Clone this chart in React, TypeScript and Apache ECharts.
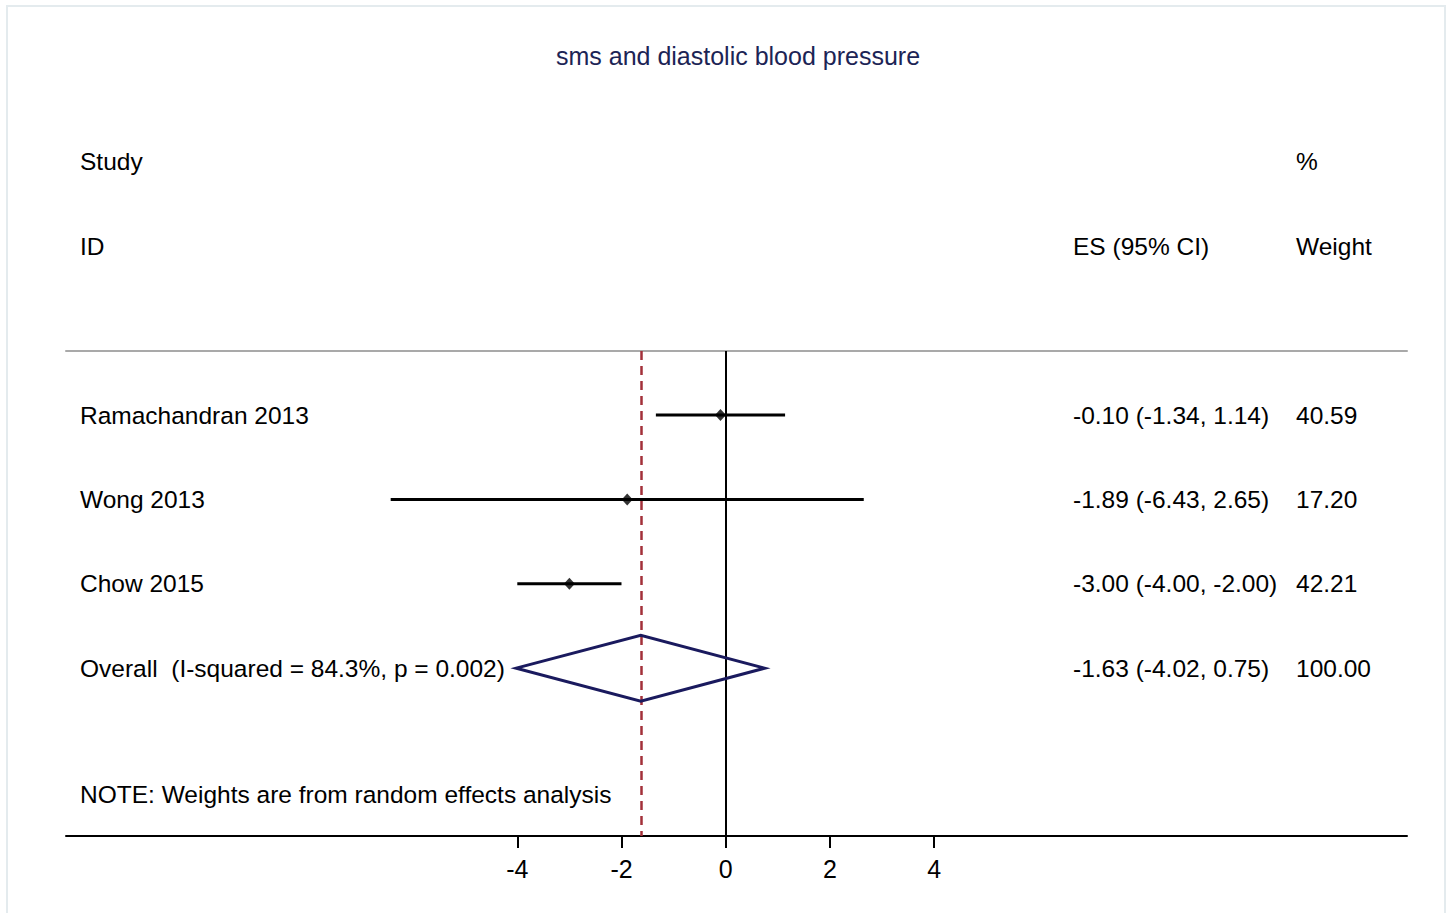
import React, { useEffect, useRef } from "react";
import * as echarts from "echarts";

const chartTitle = "sms and diastolic blood pressure";
const studies = ["Ramachandran 2013", "Wong 2013", "Chow 2015"];
const es = [-0.1, -1.89, -3.0];
const lo = [-1.34, -6.43, -4.0];
const hi = [1.14, 2.65, -2.0];
const weights = ["40.59", "17.2", "42.21"];
const overallLabel = "Overall  (I-squared = 84.3%, p = 0.002)";
const overallES = -1.63;
const overallLo = -4.02;
const overallHi = 0.75;
const overallWeight = "100.00";
const tickValues = [-4, -2, 0, 2, 4];
const note = "NOTE: Weights are from random effects analysis";

const FONT = "'Liberation Sans', Arial, sans-serif";
const FS = 24.5;

const fmt = (v: number) => v.toFixed(2);

export default function App() {
  const ref = useRef<HTMLDivElement>(null);
  useEffect(() => {
    if (!ref.current) return;
    const chart = echarts.init(ref.current, undefined, { renderer: "svg" });
    const xMin = -12.662;
    const xMax = 13.077;
    const rowText = (x: number, y: number, text: string) => ({
      type: "text",
      x,
      y,
      style: { text, fill: "#000", font: `${FS}px ${FONT}`, textAlign: "left", textVerticalAlign: "middle" },
    });
    const studyData = studies.map((s, i) => [es[i], i + 1, lo[i], hi[i]]);
    const overallRow = studies.length + 1;
    chart.setOption({
      animation: false,
      backgroundColor: "#fff",
      grid: { left: 66, right: 41, top: 351, bottom: 77, outerBoundsMode: "none" },
      xAxis: [
        {
          type: "value",
          min: xMin,
          max: xMax,
          position: "bottom",
          axisLine: { show: true, lineStyle: { color: "#000", width: 2 } },
          axisTick: { show: true, customValues: tickValues, length: 12, lineStyle: { color: "#000", width: 2 } },
          axisLabel: { show: true, customValues: tickValues, color: "#000", fontSize: 25, fontFamily: FONT, margin: 20 },
          splitLine: { show: false },
        },
        {
          type: "value",
          min: xMin,
          max: xMax,
          position: "top",
          axisLine: { show: true, lineStyle: { color: "#a9a9a9", width: 2 } },
          axisTick: { show: false },
          axisLabel: { show: false },
          splitLine: { show: false },
        },
      ],
      yAxis: {
        type: "value",
        inverse: true,
        min: 0.241,
        max: 5.989,
        show: false,
        splitLine: { show: false },
      },
      graphic: [
        {
          type: "rect",
          shape: { x: 7, y: 6, width: 1438, height: 930 },
          style: { fill: "none", stroke: "#e4ebee", lineWidth: 2 },
          z: -1,
        },
        {
          type: "text",
          x: 738,
          y: 56,
          style: { text: chartTitle, fill: "#1c2455", font: `25px ${FONT}`, textAlign: "center", textVerticalAlign: "middle" },
        },
        rowText(80, 161, "Study"),
        rowText(80, 246, "ID"),
        rowText(1296, 161, "%"),
        rowText(1073, 246, "ES (95% CI)"),
        rowText(1296, 246, "Weight"),
        rowText(80, 794, note),
      ],
      series: [
        {
          type: "custom",
          data: studyData,
          z: 3,
          renderItem: (params: any, api: any) => {
            const i = params.dataIndex;
            const y = api.value(1);
            const p1 = api.coord([api.value(2), y]);
            const p2 = api.coord([api.value(3), y]);
            return {
              type: "group",
              children: [
                {
                  type: "line",
                  shape: { x1: p1[0], y1: p1[1], x2: p2[0], y2: p2[1] },
                  style: { stroke: "#000", lineWidth: 3 },
                },
                rowText(80, p1[1], studies[i]),
                rowText(1073, p1[1], `${fmt(es[i])} (${fmt(lo[i])}, ${fmt(hi[i])})`),
                rowText(1296, p1[1], Number(weights[i]).toFixed(2)),
              ],
            };
          },
        },
        {
          type: "scatter",
          data: studyData.map((d) => [d[0], d[1]]),
          symbol: "diamond",
          symbolSize: [11, 12],
          itemStyle: { color: "#000" },
          z: 4,
          markLine: {
            silent: true,
            symbol: "none",
            label: { show: false },
            data: [
              { xAxis: 0, lineStyle: { color: "#000", width: 2, type: "solid" } },
              { xAxis: overallES, lineStyle: { color: "#a3303a", width: 2.5, type: [9, 6] } },
            ],
          },
        },
        {
          type: "custom",
          data: [[overallES, overallRow, overallLo, overallHi]],
          z: 5,
          renderItem: (params: any, api: any) => {
            const y = api.value(1);
            const h = 0.39;
            const pl = api.coord([api.value(2), y]);
            const pt = api.coord([api.value(0), y - h]);
            const pr = api.coord([api.value(3), y]);
            const pb = api.coord([api.value(0), y + h]);
            return {
              type: "group",
              children: [
                {
                  type: "polygon",
                  shape: { points: [pl, pt, pr, pb] },
                  style: { fill: "none", stroke: "#1a1a5e", lineWidth: 3 },
                },
                rowText(80, pl[1], overallLabel),
                rowText(1073, pl[1], `${fmt(overallES)} (${fmt(overallLo)}, ${fmt(overallHi)})`),
                rowText(1296, pl[1], overallWeight),
              ],
            };
          },
        },
      ],
    });
    return () => chart.dispose();
  }, []);
  return (
    <div
      ref={ref}
      style={{ position: "absolute", left: 0, top: 0, width: 1448, height: 913, background: "#fff" }}
    />
  );
}
